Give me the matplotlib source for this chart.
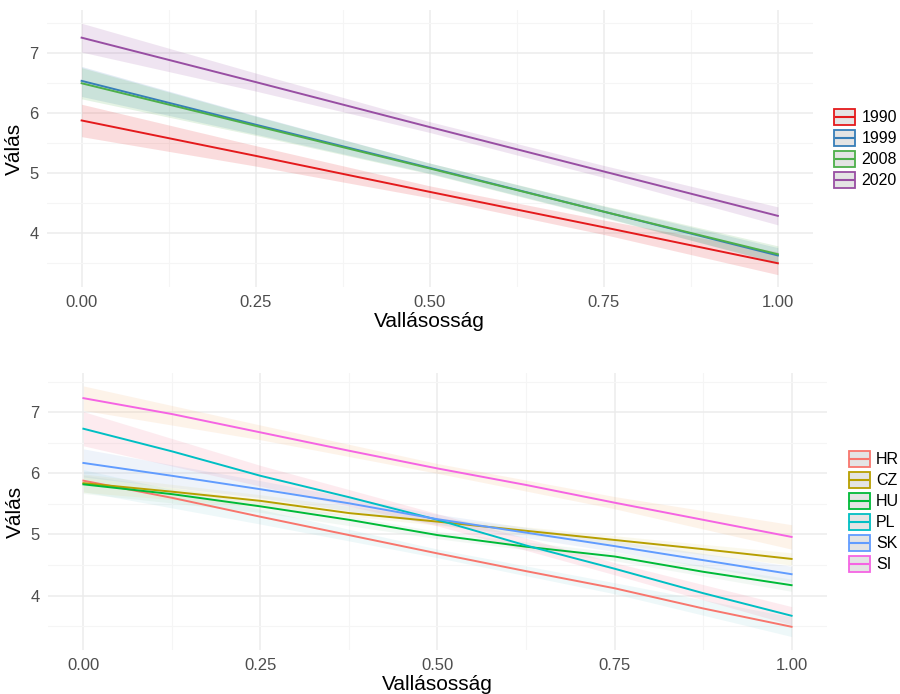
import numpy as np
import matplotlib.pyplot as plt
from matplotlib.patches import Rectangle
from matplotlib.lines import Line2D

plt.rcParams['font.family'] = ['Liberation Sans', 'DejaVu Sans']

# predicted values, by survey wave
x_wave = [0, 0.25, 0.5, 0.75, 1]
waves = ['1990', '1999', '2008', '2020']
wave_colors = ['#E41A1C', '#377EB8', '#4DAF4A', '#984EA3']
wave_fit = [
    [5.88, 5.29, 4.69, 4.10, 3.50],
    [6.54, 5.81, 5.09, 4.36, 3.63],
    [6.50, 5.79, 5.08, 4.36, 3.65],
    [7.26, 6.52, 5.77, 5.03, 4.29],
]
wave_hi = [
    [6.15, 5.46, 4.79, 4.22, 3.69],
    [6.78, 5.96, 5.17, 4.45, 3.76],
    [6.76, 5.95, 5.17, 4.46, 3.79],
    [7.50, 6.67, 5.86, 5.13, 4.44],
]
wave_lo = [
    [5.61, 5.12, 4.59, 3.98, 3.31],
    [6.28, 5.65, 5.00, 4.27, 3.50],
    [6.24, 5.63, 4.99, 4.26, 3.51],
    [7.02, 6.37, 5.68, 4.93, 4.14],
]

# predicted values, by country
x_cty = [0, 0.125, 0.25, 0.375, 0.5, 0.625, 0.75, 0.875, 1]
countries = ['HR', 'CZ', 'HU', 'PL', 'SK', 'SI']
cty_colors = ['#F8766D', '#B79F00', '#00BA38', '#00BFC4', '#619CFF', '#F564E3']
cty_fit = [
    [5.88, 5.60, 5.29, 4.99, 4.69, 4.40, 4.12, 3.79, 3.49],
    [5.84, 5.70, 5.55, 5.35, 5.21, 5.06, 4.91, 4.76, 4.60],
    [5.82, 5.66, 5.46, 5.24, 4.99, 4.80, 4.64, 4.39, 4.17],
    [6.73, 6.36, 5.96, 5.61, 5.24, 4.82, 4.44, 4.04, 3.67],
    [6.17, 5.96, 5.74, 5.51, 5.25, 5.03, 4.81, 4.58, 4.35],
    [7.23, 6.97, 6.67, 6.37, 6.08, 5.81, 5.52, 5.24, 4.96],
]
x_band = [0, 0.25, 0.5, 0.75, 1]
cty_fill = ['#7FCBD4', '#E0D070', '#9FD0AA', '#F06A8A', '#7FA6E0', '#F5A45A']
cty_hi = [
    [6.06, 5.41, 4.76, 4.21, 3.65],
    [5.99, 5.65, 5.27, 4.98, 4.70],
    [5.97, 5.56, 5.05, 4.71, 4.27],
    [7.01, 6.13, 5.34, 4.54, 3.82],
    [6.40, 5.88, 5.33, 4.90, 4.48],
    [7.43, 6.79, 6.16, 5.62, 5.16],
]
cty_lo = [
    [5.70, 5.17, 4.62, 4.03, 3.33],
    [5.69, 5.45, 5.15, 4.84, 4.50],
    [5.67, 5.36, 4.93, 4.57, 4.07],
    [6.45, 5.79, 5.14, 4.34, 3.52],
    [5.94, 5.60, 5.17, 4.72, 4.22],
    [7.03, 6.55, 6.00, 5.42, 4.76],
]


class KeyHandler:
    # grey key box with coloured outline and a line across the middle
    def legend_artist(self, legend, orig_handle, fontsize, handlebox):
        c = orig_handle.get_color()
        x0, y0 = -handlebox.xdescent, -handlebox.ydescent
        w, h = handlebox.width, handlebox.height
        rect = Rectangle((x0, y0), w, h, facecolor='#E4E4E4', edgecolor=c,
                         lw=1.3, transform=handlebox.get_transform())
        line = Line2D([x0 + 1, x0 + w - 1], [y0 + h / 2] * 2, color=c, lw=1.5,
                      transform=handlebox.get_transform())
        handlebox.add_artist(rect)
        handlebox.add_artist(line)
        return rect


def style_axes(ax, ylim):
    ax.set_xlim(-0.05, 1.05)
    ax.set_ylim(*ylim)
    ax.set_xticks([0, 0.25, 0.5, 0.75, 1])
    ax.set_xticklabels(['0.00', '0.25', '0.50', '0.75', '1.00'])
    ax.set_xticks([0.125, 0.375, 0.625, 0.875], minor=True)
    ax.set_yticks([4, 5, 6, 7])
    ax.set_yticks([3.5, 4.5, 5.5, 6.5, 7.5], minor=True)
    ax.grid(which='major', color='#ECECEC', lw=1.1)
    ax.grid(which='minor', color='#F5F5F5', lw=0.8)
    ax.set_axisbelow(True)
    for s in ax.spines.values():
        s.set_visible(False)
    ax.tick_params(which='both', length=0, labelsize=12, labelcolor='#4D4D4D', pad=6)
    ax.set_xlabel('Vallásosság', fontsize=15, labelpad=1)
    ax.set_ylabel('Válás', fontsize=15, labelpad=4)


def add_legend(ax, labels, colors):
    handles = [Line2D([], [], color=c) for c in colors]
    ax.legend(handles, labels, handler_map={Line2D: KeyHandler()},
              loc='center left', bbox_to_anchor=(1.02, 0.5), frameon=False,
              fontsize=11.5, handlelength=1.3, handleheight=1.2,
              labelspacing=0.28, handletextpad=0.4, borderaxespad=0)


fig = plt.figure(figsize=(9, 6.94), dpi=100)
ax1 = fig.add_axes([0.052, 0.5865, 0.851, 0.399])
ax2 = fig.add_axes([0.0533, 0.0634, 0.8656, 0.399])

for hi, lo, c in zip(wave_hi, wave_lo, wave_colors):
    ax1.fill_between(x_wave, lo, hi, color=c, alpha=0.15, lw=0)
for fit, c in zip(wave_fit, wave_colors):
    ax1.plot(x_wave, fit, color=c, lw=1.4)
style_axes(ax1, (3.105, 7.72))
add_legend(ax1, waves, wave_colors)

for hi, lo, c in zip(cty_hi, cty_lo, cty_fill):
    ax2.fill_between(x_band, lo, hi, color=c, alpha=0.13, lw=0)
for fit, c in zip(cty_fit, cty_colors):
    ax2.plot(x_cty, fit, color=c, lw=1.4)
style_axes(ax2, (3.11, 7.64))
add_legend(ax2, countries, cty_colors)

fig.savefig('out.png', dpi=100, facecolor='white')
